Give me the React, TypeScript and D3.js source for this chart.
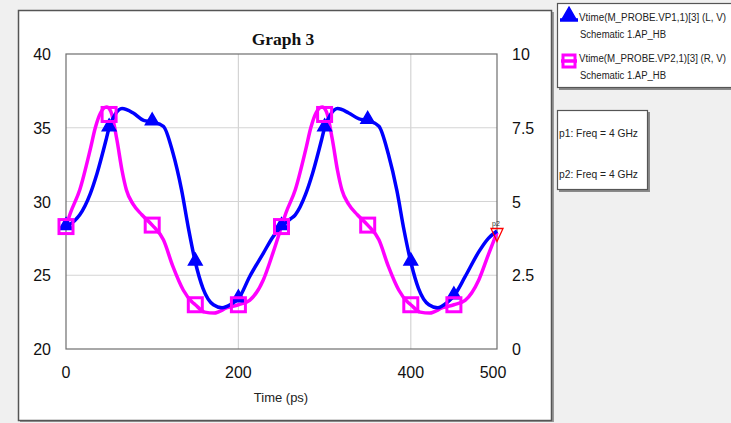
import * as d3 from 'd3';
import { useEffect, useRef } from 'react';

// Vtime(M_PROBE.VP1,1)[3] (L, V) - left axis
const vp1Time = [0, 10, 16, 28, 36, 47, 50, 57, 65, 78, 90, 100, 113, 124, 134, 142, 150, 159, 171, 181, 193, 200, 213, 229, 240, 250,
  260, 266, 278, 286, 297, 300, 307, 315, 328, 340, 350, 363, 374, 384, 392, 400, 409, 421, 431, 443, 450, 463, 479, 490, 500];
const vp1Value = [28.3, 28.7, 29.1, 30.5, 31.9, 34.3, 35.0, 35.9, 36.3, 36.0, 35.5, 35.4, 35.1, 33.3, 30.8, 28.2, 25.9, 24.1, 23.0, 22.8, 23.1, 23.4, 24.9, 26.5, 27.6, 28.3,
  28.8, 29.1, 30.5, 31.9, 34.3, 35.0, 35.9, 36.3, 36.0, 35.6, 35.5, 35.1, 33.2, 30.7, 28.1, 25.9, 24.1, 23.0, 22.8, 23.2, 23.6, 24.9, 26.6, 27.5, 28.0];

// Vtime(M_PROBE.VP2,1)[3] (R, V) - right axis
const vp2Time = [0, 5, 16, 28, 34, 40, 47, 52, 59, 65, 70, 78, 88, 100, 113, 124, 136, 146, 150, 161, 172, 187, 200, 213, 229, 240, 250,
  255, 266, 278, 284, 290, 297, 302, 309, 315, 320, 328, 338, 350, 363, 374, 386, 396, 400, 411, 422, 437, 450, 463, 479, 490, 500];
const vp2Value = [4.15, 4.6, 5.4, 6.75, 7.5, 8.0, 8.2, 8.05, 7.1, 6.05, 5.4, 4.9, 4.55, 4.2, 3.7, 2.8, 2.0, 1.6, 1.5, 1.25, 1.22, 1.4, 1.5, 1.65, 2.35, 3.25, 4.15,
  4.6, 5.4, 6.75, 7.5, 8.0, 8.2, 8.05, 7.1, 6.05, 5.4, 4.9, 4.55, 4.2, 3.7, 2.8, 2.0, 1.6, 1.5, 1.25, 1.22, 1.4, 1.5, 1.65, 2.35, 3.2, 3.95];

const markerTime = [0, 50, 100, 150, 200, 250, 300, 350, 400, 450];
const vp1Marker = [28.3, 35.0, 35.4, 25.9, 23.4, 28.3, 35.0, 35.5, 25.9, 23.6];
const vp2Marker = [4.15, 7.95, 4.2, 1.5, 1.5, 4.15, 7.95, 4.2, 1.5, 1.5];

const xTicks = [0, 200, 400, 500];
const xGrid = [200, 400];
const yLeftTicks = [20, 25, 30, 35, 40];
const yRightTicks = [0, 2.5, 5, 7.5, 10];

const legendLines = [
  ['Vtime(M_PROBE.VP1,1)[3] (L, V)', 'Schematic 1.AP_HB'],
  ['Vtime(M_PROBE.VP2,1)[3] (R, V)', 'Schematic 1.AP_HB'],
];
const markerNotes = ['p1: Freq = 4 GHz', 'p2: Freq = 4 GHz'];

export default function App() {
  const ref = useRef<SVGSVGElement | null>(null);

  useEffect(() => {
    if (!ref.current) return;
    const svg = d3.select(ref.current);
    svg.selectAll('*').remove();
    const font = 'Arial, "Liberation Sans", sans-serif';
    const blue = '#0000ff';
    const pink = '#ff00ff';

    svg.append('rect').attr('width', 731).attr('height', 423).attr('fill', '#f0f0f0');

    // main panel
    svg.append('rect').attr('x', 20).attr('y', 12).attr('width', 534).attr('height', 410).attr('fill', '#9a9a9a');
    svg.append('rect').attr('x', 18.5).attr('y', 10.5).attr('width', 533).attr('height', 410)
      .attr('fill', '#fff').attr('stroke', '#555').attr('stroke-width', 1.5);

    const left = 66, right = 497, top = 54, bottom = 349;
    const x = d3.scaleLinear().domain([0, 500]).range([left, right]);
    const yL = d3.scaleLinear().domain([20, 40]).range([bottom, top]);
    const yR = d3.scaleLinear().domain([0, 10]).range([bottom, top]);

    // grid
    const grid = svg.append('g').attr('stroke', '#d4d4d4').attr('stroke-width', 1.2);
    xGrid.forEach((t) => {
      grid.append('line').attr('x1', x(t)).attr('x2', x(t)).attr('y1', top).attr('y2', bottom);
    });
    yLeftTicks.slice(1, -1).forEach((v) => {
      grid.append('line').attr('x1', left).attr('x2', right).attr('y1', yL(v)).attr('y2', yL(v));
    });

    svg.append('rect').attr('x', left).attr('y', top).attr('width', right - left).attr('height', bottom - top)
      .attr('fill', 'none').attr('stroke', '#6e6e6e').attr('stroke-width', 1.2);

    // tick labels
    const lbl = svg.append('g').attr('font-family', font).attr('font-size', 16).attr('fill', '#111');
    yLeftTicks.forEach((v) => {
      lbl.append('text').attr('x', 51).attr('y', yL(v) + 6).attr('text-anchor', 'end').text(v);
    });
    yRightTicks.forEach((v) => {
      lbl.append('text').attr('x', 512).attr('y', yR(v) + 6).text(v);
    });
    xTicks.forEach((t) => {
      lbl.append('text').attr('x', t === 500 ? x(t) - 4 : x(t)).attr('y', 378).attr('text-anchor', 'middle').text(t);
    });
    svg.append('text').attr('x', 281).attr('y', 402).attr('text-anchor', 'middle')
      .attr('font-family', font).attr('font-size', 13).attr('fill', '#222').text('Time (ps)');
    svg.append('text').attr('x', 283).attr('y', 45).attr('text-anchor', 'middle')
      .attr('font-family', '"Liberation Serif", "Times New Roman", serif').attr('font-weight', 'bold')
      .attr('font-size', 17.5).attr('fill', '#111').text('Graph 3');

    // curves
    const lineL = d3.line<number>().x((_, i) => x(vp1Time[i])).y((d) => yL(d)).curve(d3.curveMonotoneX);
    const lineR = d3.line<number>().x((_, i) => x(vp2Time[i])).y((d) => yR(d)).curve(d3.curveMonotoneX);

    svg.append('path').attr('d', lineR(vp2Value)).attr('fill', 'none').attr('stroke', pink)
      .attr('stroke-width', 3.5).attr('stroke-linejoin', 'round');
    svg.append('path').attr('d', lineL(vp1Value)).attr('fill', 'none').attr('stroke', blue)
      .attr('stroke-width', 3.5).attr('stroke-linejoin', 'round');

    const tri = d3.symbol().type(d3.symbolTriangle).size(80);
    markerTime.forEach((t, i) => {
      svg.append('path').attr('d', tri()).attr('transform', `translate(${x(t)},${yL(vp1Marker[i]) - 1})`)
        .attr('fill', blue).attr('stroke', blue).attr('stroke-width', 1.5);
    });
    markerTime.forEach((t, i) => {
      svg.append('rect').attr('x', x(t) - 7).attr('y', yR(vp2Marker[i]) - 7).attr('width', 14).attr('height', 14)
        .attr('fill', 'none').attr('stroke', pink).attr('stroke-width', 3);
    });

    // marker p2 at end
    const ex = x(500), ey = yR(vp2Value[vp2Value.length - 1]);
    svg.append('path').attr('d', `M${ex - 6},${ey - 4}L${ex + 6},${ey - 4}L${ex},${ey + 9}Z`)
      .attr('fill', 'none').attr('stroke', '#ff0000').attr('stroke-width', 1.3);
    svg.append('text').attr('x', ex - 1).attr('y', ey - 6).attr('text-anchor', 'middle')
      .attr('font-family', font).attr('font-size', 7).attr('fill', '#333').text('p2');

    // legend box
    svg.append('rect').attr('x', 559).attr('y', 5).attr('width', 180).attr('height', 85).attr('fill', '#8a8a8a');
    svg.append('rect').attr('x', 557.5).attr('y', 3.5).attr('width', 180).attr('height', 84)
      .attr('fill', '#fff').attr('stroke', '#555').attr('stroke-width', 1.2);
    const lg = svg.append('g').attr('font-family', font).attr('font-size', 10).attr('fill', '#222');
    legendLines.forEach((pair, i) => {
      const by = 21 + i * 41;
      lg.append('text').attr('x', 579).attr('y', by).attr('textLength', 147)
        .attr('lengthAdjust', 'spacingAndGlyphs').text(pair[0]);
      lg.append('text').attr('x', 580).attr('y', by + 17).attr('textLength', 86)
        .attr('lengthAdjust', 'spacingAndGlyphs').text(pair[1]);
    });
    svg.append('line').attr('x1', 560).attr('x2', 578).attr('y1', 20).attr('y2', 20).attr('stroke', blue).attr('stroke-width', 3.5);
    svg.append('path').attr('d', tri()).attr('transform', 'translate(569,15)').attr('fill', blue).attr('stroke', blue).attr('stroke-width', 1.5);
    svg.append('line').attr('x1', 561).attr('x2', 577).attr('y1', 61).attr('y2', 61).attr('stroke', pink).attr('stroke-width', 3.5);
    svg.append('rect').attr('x', 563).attr('y', 55).attr('width', 12).attr('height', 12)
      .attr('fill', 'none').attr('stroke', pink).attr('stroke-width', 3);

    // marker readout box
    svg.append('rect').attr('x', 559).attr('y', 112).attr('width', 91).attr('height', 80).attr('fill', '#8a8a8a');
    svg.append('rect').attr('x', 557.5).attr('y', 110.5).attr('width', 90).attr('height', 79)
      .attr('fill', '#fff').attr('stroke', '#555').attr('stroke-width', 1.2);
    markerNotes.forEach((s, i) => {
      svg.append('text').attr('x', 559).attr('y', 137 + i * 41).attr('font-family', font)
        .attr('font-size', 11.5).attr('textLength', 79).attr('lengthAdjust', 'spacingAndGlyphs')
        .attr('fill', '#222').text(s);
    });
  }, []);

  return (
    <svg ref={ref} width={731} height={423} style={{ position: 'absolute', left: 0, top: 0 }}
      role="img" aria-label="Graph 3" />
  );
}
